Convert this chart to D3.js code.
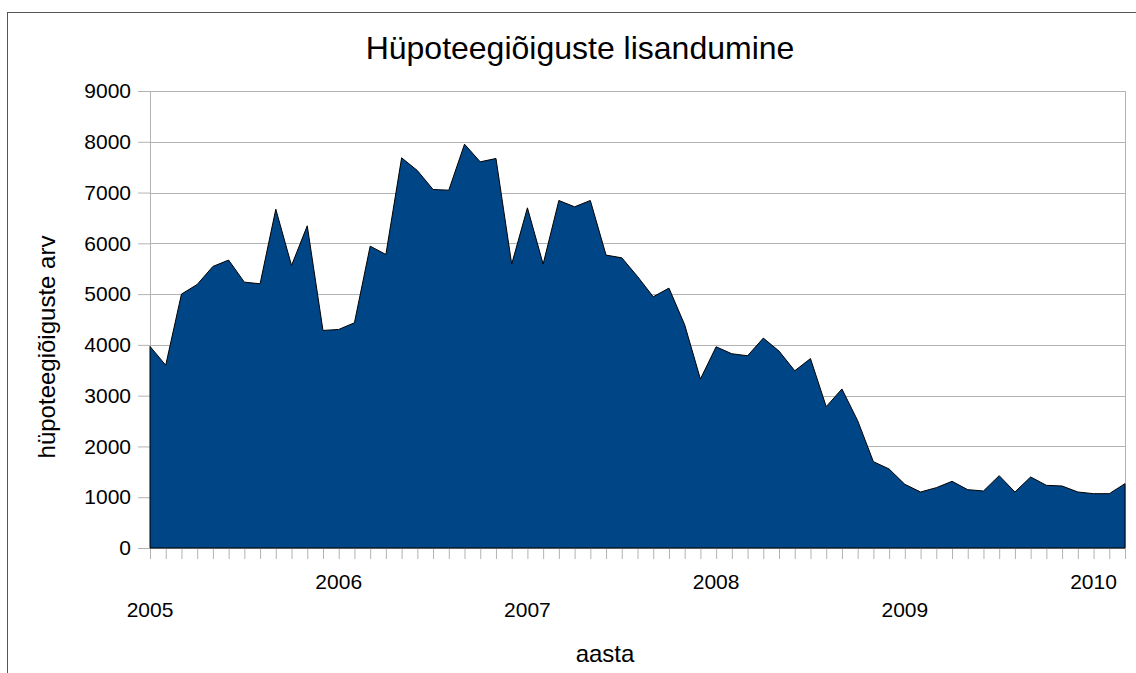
<!DOCTYPE html>
<html>
<head>
<meta charset="utf-8">
<script src="https://cdn.jsdelivr.net/npm/d3@7"></script>
<style>
  body { margin: 0; background: #fff; }
  svg text { font-family: "Liberation Sans", Arial, sans-serif; fill: #000; }
</style>
</head>
<body>
<div id="chart"></div>
<script>
// monthly values, Jan 2005 .. Mar 2010
let values2005 = [3970, 3600, 5000, 5190, 5545, 5670, 5236, 5203, 6673, 5564, 6345, 4285];
let values2006 = [4304, 4436, 5945, 5781, 7684, 7434, 7060, 7047, 7953, 7605, 7671, 5591];
let values2007 = [6699, 5591, 6844, 6719, 6844, 5768, 5715, 5348, 4948, 5118, 4396, 3327];
let values2008 = [3963, 3825, 3786, 4134, 3878, 3491, 3730, 2784, 3132, 2508, 1701, 1556];
let values2009 = [1254, 1103, 1188, 1313, 1149, 1123, 1425, 1103, 1399, 1234, 1221, 1103];
let values2010 = [1070, 1070, 1267];
let years = ['2005', '2006', '2007', '2008', '2009', '2010'];
let yTicks = [0, 1000, 2000, 3000, 4000, 5000, 6000, 7000, 8000, 9000];

let values = [].concat(values2005, values2006, values2007, values2008, values2009, values2010);
let data = values.map(function(v, i) { return {i: i, value: v}; });

let W = 1136, H = 673;
let margin = {top: 91, right: 11, bottom: 125, left: 150},
    width = W - margin.left - margin.right,
    height = H - margin.top - margin.bottom;

let x = d3.scaleLinear()
          .domain([0, values.length - 1])
          .range([0, width]);
let y = d3.scaleLinear()
          .domain([0, 9000])
          .range([height, 0]);

let root = d3.select("#chart")
             .append("svg")
             .attr("width", W)
             .attr("height", H);

// outer frame
root.append("rect")
    .attr("x", 7.5)
    .attr("y", 12.5)
    .attr("width", W + 20)
    .attr("height", H + 20)
    .attr("fill", "none")
    .attr("stroke", "#555");

root.append("text")
    .attr("x", 580)
    .attr("y", 59)
    .attr("text-anchor", "middle")
    .style("font-size", "32px")
    .text("Hüpoteegiõiguste lisandumine");

let svg = root.append("g")
              .attr("transform", "translate(" + margin.left + "," + margin.top + ")");

// grid
svg.selectAll(".grid")
   .data(yTicks)
   .enter().append("line")
    .attr("x1", 0)
    .attr("x2", width)
    .attr("y1", function(d) { return Math.round(y(d)) + 0.5; })
    .attr("y2", function(d) { return Math.round(y(d)) + 0.5; })
    .attr("stroke", "#b3b3b3")
    .attr("stroke-width", 1);

svg.append("line")
   .attr("x1", width + 0.5).attr("x2", width + 0.5)
   .attr("y1", 0).attr("y2", height)
   .attr("stroke", "#b3b3b3");

// y axis
let yAxis = svg.append("g")
   .call(d3.axisLeft(y).tickValues(yTicks).tickSize(12).tickPadding(7).tickFormat(d3.format("d")));
yAxis.select(".domain").attr("stroke", "#b3b3b3");
yAxis.selectAll(".tick line").attr("stroke", "#b3b3b3");
yAxis.selectAll("text").style("font-size", "21px").attr("fill", "#000");

// x axis month ticks
let xAxis = svg.append("g")
   .attr("transform", "translate(0," + height + ")")
   .call(d3.axisBottom(x).tickValues(d3.range(values.length)).tickSize(11).tickFormat(""));
xAxis.select(".domain").remove();
xAxis.selectAll(".tick line").attr("stroke", "#b3b3b3");

// area
let area = d3.area()
             .x(function(d) { return x(d.i); })
             .y0(y(0))
             .y1(function(d) { return y(d.value); });

svg.append("path")
   .datum(data)
   .attr("d", area)
   .attr("fill", "#004586")
   .attr("stroke", "#000")
   .attr("stroke-width", 1)
   .attr("stroke-linejoin", "miter");

// year labels, staggered
svg.selectAll(".year")
   .data(years)
   .enter().append("text")
    .attr("x", function(d, k) { return x(k * 12); })
    .attr("y", function(d, k) { return height + (k % 2 == 0 ? 69 : 41); })
    .attr("text-anchor", "middle")
    .style("font-size", "21px")
    .text(function(d) { return d; });

root.append("text")
    .attr("x", 605)
    .attr("y", 662)
    .attr("text-anchor", "middle")
    .style("font-size", "24px")
    .text("aasta");

root.append("text")
    .attr("transform", "translate(55,347) rotate(-90)")
    .attr("text-anchor", "middle")
    .style("font-size", "24px")
    .text("hüpoteegiõiguste arv");
</script>
</body>
</html>
